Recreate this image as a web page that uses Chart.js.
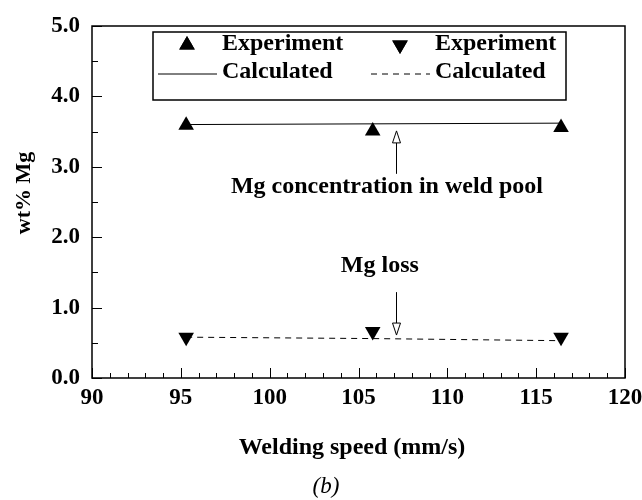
<!DOCTYPE html>
<html>
<head>
<meta charset="utf-8">
<script src="https://cdn.jsdelivr.net/npm/chart.js@4"></script>
<style>
  html, body { margin: 0; padding: 0; background: #fff; }
  #wrap { width: 642px; height: 500px; }
</style>
</head>
<body>
<div id="wrap"><canvas id="mgChart"></canvas></div>
<script>
// welding speed (mm/s) of the three runs
const speeds = [95.3, 105.8, 116.4];
// Mg concentration in the weld pool (wt%)
const poolMeasured = [3.59, 3.51, 3.56];
const poolCalculated = [3.60, 3.61, 3.62];
// Mg loss (wt%)
const lossMeasured = [0.58, 0.66, 0.58];
const lossCalculated = [0.58, 0.56, 0.53];

const xTicks = [90, 95, 100, 105, 110, 115, 120];
const yTicks = [0.0, 1.0, 2.0, 3.0, 4.0, 5.0];

const SERIF = "'Liberation Serif', 'Times New Roman', serif";

function pts(xs, ys) {
    return xs.map(function (x, i) { return { x: x, y: ys[i] }; });
}

function hollowArrow(ctx, x, yTail, yTip) {
    const dir = yTip < yTail ? -1 : 1;
    const headLen = 12, headHalf = 4;
    ctx.save();
    ctx.strokeStyle = "#000";
    ctx.lineWidth = 1;
    ctx.beginPath();
    ctx.moveTo(x, yTail);
    ctx.lineTo(x, yTip - dir * headLen);
    ctx.stroke();
    ctx.beginPath();
    ctx.moveTo(x, yTip);
    ctx.lineTo(x - headHalf, yTip - dir * headLen);
    ctx.lineTo(x + headHalf, yTip - dir * headLen);
    ctx.closePath();
    ctx.fillStyle = "#fff";
    ctx.fill();
    ctx.stroke();
    ctx.restore();
}

// frame, inward ticks, legend box, annotations and titles
const decorations = {
    id: "decorations",
    afterDraw: function (chart) {
        const ctx = chart.ctx;
        const a = chart.chartArea;
        const xs = chart.scales.x, ys = chart.scales.y;
        ctx.save();

        ctx.strokeStyle = "#000";
        ctx.lineWidth = 1.5;
        ctx.strokeRect(a.left, a.top, a.right - a.left, a.bottom - a.top);

        ctx.lineWidth = 1;
        ctx.beginPath();
        for (let v = 90; v <= 120; v++) {
            const px = Math.round(xs.getPixelForValue(v)) + 0.5;
            const len = v % 5 === 0 ? 10 : 5;
            ctx.moveTo(px, a.bottom);
            ctx.lineTo(px, a.bottom - len);
        }
        for (let v = 0; v <= 10; v++) {
            const py = Math.round(ys.getPixelForValue(v / 2)) + 0.5;
            const len = v % 2 === 0 ? 10 : 6;
            ctx.moveTo(a.left, py);
            ctx.lineTo(a.left + len, py);
        }
        ctx.stroke();

        // legend
        const ds = chart.data.datasets;
        const bx = a.left + 61, by = a.top + 6, bw = 413, bh = 68;
        ctx.lineWidth = 1.5;
        ctx.strokeRect(bx, by, bw, bh);
        ctx.font = "bold 24px " + SERIF;
        ctx.fillStyle = "#000";
        ctx.textBaseline = "middle";
        ctx.textAlign = "left";
        const cols = [{ x: bx, sym: 0, line: 2 }, { x: bx + 213, sym: 1, line: 3 }];
        cols.forEach(function (c) {
            const sd = ds[c.sym], ld = ds[c.line];
            Chart.helpers.drawPoint(ctx, {
                pointStyle: sd.pointStyle, radius: sd.pointRadius,
                rotation: sd.rotation || 0, borderWidth: 0
            }, c.x + 34, by + 13);
            ctx.fill();
            ctx.fillText(sd.label, c.x + 69, by + 12);
            ctx.save();
            ctx.lineWidth = 1;
            ctx.setLineDash(ld.borderDash || []);
            ctx.beginPath();
            ctx.moveTo(c.x + 5, by + 42);
            ctx.lineTo(c.x + 64, by + 42);
            ctx.stroke();
            ctx.restore();
            ctx.fillText(ld.label, c.x + 69, by + 40);
        });

        // annotations
        ctx.font = "bold 24px " + SERIF;
        ctx.textAlign = "center";
        ctx.fillText("Mg concentration in weld pool", xs.getPixelForValue(106.6), ys.getPixelForValue(2.71));
        ctx.fillText("Mg loss", xs.getPixelForValue(106.2), ys.getPixelForValue(1.60));
        const ax = Math.round(xs.getPixelForValue(107.1)) + 0.5;
        hollowArrow(ctx, ax, ys.getPixelForValue(2.9), ys.getPixelForValue(3.51));
        hollowArrow(ctx, ax, ys.getPixelForValue(1.22), ys.getPixelForValue(0.61));

        // axis titles and panel label
        ctx.font = "bold 24px " + SERIF;
        ctx.fillText("Welding speed (mm/s)", 352, 448);
        ctx.font = "italic 23px " + SERIF;
        ctx.fillText("(b)", 326, 487);
        ctx.save();
        ctx.translate(24, 193);
        ctx.rotate(-Math.PI / 2);
        ctx.font = "bold 22px " + SERIF;
        ctx.fillText("wt% Mg", 0, 0);
        ctx.restore();

        ctx.restore();
    }
};

new Chart(document.getElementById("mgChart").getContext("2d"), {
    type: "scatter",
    data: {
        datasets: [{
            label: "Experiment",
            data: pts(speeds, poolMeasured),
            pointStyle: "triangle",
            pointRadius: 9,
            backgroundColor: "#000",
            borderWidth: 0,
            showLine: false
        }, {
            label: "Experiment",
            data: pts(speeds, lossMeasured),
            pointStyle: "triangle",
            rotation: 180,
            pointRadius: 9,
            backgroundColor: "#000",
            borderWidth: 0,
            showLine: false
        }, {
            label: "Calculated",
            data: pts(speeds, poolCalculated),
            showLine: true,
            borderColor: "#000",
            borderWidth: 1,
            pointRadius: 0
        }, {
            label: "Calculated",
            data: pts(speeds, lossCalculated),
            showLine: true,
            borderColor: "#000",
            borderWidth: 1,
            borderDash: [6, 5],
            pointRadius: 0
        }]
    },
    options: {
        responsive: true,
        maintainAspectRatio: false,
        animation: false,
        layout: { padding: { top: 26, right: 17, left: 0, bottom: 0 } },
        plugins: {
            legend: { display: false },
            tooltip: { enabled: false }
        },
        scales: {
            x: {
                type: "linear",
                min: 90,
                max: 120,
                afterBuildTicks: function (scale) {
                    scale.ticks = xTicks.map(function (v) { return { value: v }; });
                },
                ticks: {
                    color: "#000",
                    padding: 6,
                    maxRotation: 0,
                    font: { family: SERIF, size: 23, weight: "bold" }
                },
                grid: { display: false, drawTicks: false },
                border: { display: false },
                afterFit: function (scale) {
                    scale.height = 122;
                    scale.paddingLeft = 0;
                    scale.paddingRight = 0;
                }
            },
            y: {
                min: 0,
                max: 5,
                afterBuildTicks: function (scale) {
                    scale.ticks = yTicks.map(function (v) { return { value: v }; });
                },
                ticks: {
                    color: "#000",
                    padding: 12,
                    callback: function (value) { return Number(value).toFixed(1); },
                    font: { family: SERIF, size: 23, weight: "bold" }
                },
                grid: { display: false, drawTicks: false },
                border: { display: false },
                afterFit: function (scale) { scale.width = 92; }
            }
        }
    },
    plugins: [decorations]
});
</script>
</body>
</html>
